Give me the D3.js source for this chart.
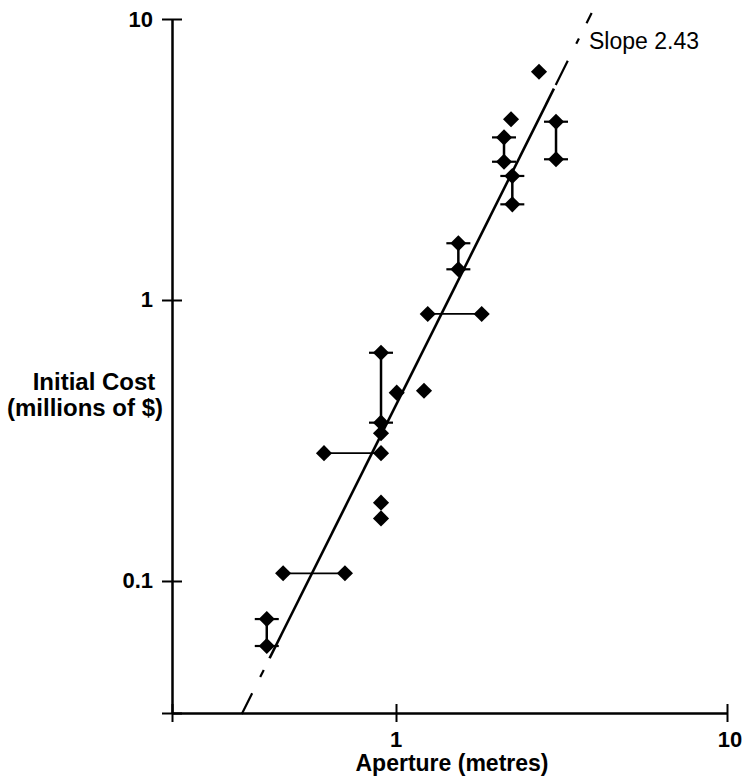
<!DOCTYPE html>
<html>
<head>
<meta charset="utf-8">
<script src="https://cdn.jsdelivr.net/npm/d3@7"></script>
<style>
  body { margin: 0; background: #fff; }
  svg { display: block; }
  text { font-family: "Liberation Sans", Arial, sans-serif; fill: #000; }
  .lbl { font-size: 22px; font-weight: bold; }
</style>
</head>
<body>
<svg id="chart" width="745" height="783"></svg>
<script>
// aperture (m) and initial cost (millions of $)
const points = [
  [0.407, 0.0732], [0.407, 0.0587],
  [0.456, 0.1065], [0.701, 0.1065],
  [0.606, 0.285], [0.901, 0.285],
  [0.901, 0.649], [0.901, 0.366], [0.901, 0.3355],
  [0.901, 0.19], [0.901, 0.167],
  [1.005, 0.468], [1.215, 0.4755],
  [1.247, 0.892], [1.815, 0.892],
  [1.543, 1.592], [1.543, 1.286],
  [2.12, 3.79], [2.12, 3.105],
  [2.226, 4.40],
  [2.246, 2.763], [2.246, 2.19],
  [2.704, 6.49],
  [3.044, 4.31], [3.044, 3.168]
];

// vertical ranges: [aperture, low cost, high cost]
const costRanges = [
  [0.407, 0.0587, 0.0732],
  [0.901, 0.366, 0.649],
  [1.543, 1.286, 1.592],
  [2.12, 3.105, 3.79],
  [2.246, 2.19, 2.763],
  [3.044, 3.168, 4.31]
];

// horizontal ranges: [cost, low aperture, high aperture]
const apertureRanges = [
  [0.1065, 0.456, 0.701],
  [0.285, 0.606, 0.901],
  [0.892, 1.247, 1.815]
];

// fitted power law as drawn: cost = fitAt1 * aperture ^ fitSlope
const fitSlope = 2.36;
const fitAt1 = 0.423;
const fitSolid = [0.415, 3.0];
const fitDashed = [0.342, 3.9];
const slopeLabel = "Slope 2.43";

const xTicks = [1, 10];
const yTicks = [0.1, 1, 10];
const xTickLabels = ["1", "10"];
const yTickLabels = ["0.1", "1", "10"];
const xDomain = [0.2105, 10];
const yDomain = [0.0339, 10];

const svg = d3.select("#chart");

const x = d3.scaleLog().domain(xDomain).range([172, 727]);
const y = d3.scaleLog().domain(yDomain).range([713, 19]);

const fit = a => fitAt1 * Math.pow(a, fitSlope);

// axes (ticks cross the line on both sides), labels drawn separately
const xAxis = svg.append("g").attr("transform", "translate(0,713)");
xAxis.call(d3.axisBottom(x).tickValues([xDomain[0], ...xTicks])
    .tickSize(9).tickSizeOuter(0).tickFormat(""));
xAxis.append("g").call(d3.axisTop(x).tickValues([xDomain[0], ...xTicks])
    .tickSize(9).tickSizeOuter(0).tickFormat(""));

const yAxis = svg.append("g").attr("transform", "translate(172,0)");
yAxis.call(d3.axisLeft(y).tickValues([yDomain[0], ...yTicks])
    .tickSize(10).tickSizeOuter(0).tickFormat(""));
yAxis.append("g").call(d3.axisRight(y).tickValues([yDomain[0], ...yTicks])
    .tickSize(10).tickSizeOuter(0).tickFormat(""));

svg.selectAll(".domain").attr("stroke", "#000").attr("stroke-width", 2);
svg.selectAll(".tick line").attr("stroke", "#000").attr("stroke-width", 2);

svg.append("g").selectAll("text")
    .data(xTicks)
    .join("text")
    .attr("class", "lbl")
    .attr("x", d => x(d) + (d === 10 ? 3 : 0))
    .attr("y", 747)
    .attr("text-anchor", "middle")
    .text((d, i) => xTickLabels[i]);

svg.append("g").selectAll("text")
    .data(yTicks)
    .join("text")
    .attr("class", "lbl")
    .attr("x", 153)
    .attr("y", d => y(d) + 7.5)
    .attr("text-anchor", "end")
    .text((d, i) => yTickLabels[i]);

// axis titles
svg.append("text")
    .attr("x", 452).attr("y", 771)
    .attr("text-anchor", "middle")
    .style("font-size", "23px").style("font-weight", "bold")
    .text("Aperture (metres)");

svg.append("text")
    .attr("x", 94).attr("y", 390)
    .attr("text-anchor", "middle")
    .style("font-size", "24px").style("font-weight", "bold")
    .text("Initial Cost");
svg.append("text")
    .attr("x", 85).attr("y", 416)
    .attr("text-anchor", "middle")
    .style("font-size", "24px").style("font-weight", "bold")
    .text("(millions of $)");

// fit line
const fitLine = d3.line().x(d => x(d)).y(d => y(fit(d)));

svg.append("path")
    .attr("d", fitLine(fitSolid))
    .attr("fill", "none").attr("stroke", "#000").attr("stroke-width", 2.6);

svg.append("path")
    .attr("d", fitLine([fitSolid[0], fitDashed[0]]))
    .attr("fill", "none").attr("stroke", "#000").attr("stroke-width", 2.2)
    .attr("stroke-dasharray", "0,13,8,18,24,40");

svg.append("path")
    .attr("d", fitLine([fitSolid[1], fitDashed[1]]))
    .attr("fill", "none").attr("stroke", "#000").attr("stroke-width", 2.2)
    .attr("stroke-dasharray", "0,4,27,19,6,17,14,40");

svg.append("text")
    .attr("x", 589).attr("y", 49)
    .style("font-size", "23px")
    .text(slopeLabel);

// ranges
svg.append("g").selectAll("line")
    .data(apertureRanges)
    .join("line")
    .attr("x1", d => x(d[1])).attr("x2", d => x(d[2]))
    .attr("y1", d => y(d[0])).attr("y2", d => y(d[0]))
    .attr("stroke", "#000").attr("stroke-width", 1.8);

const bars = svg.append("g").selectAll("g")
    .data(costRanges)
    .join("g");
bars.append("line")
    .attr("x1", d => x(d[0])).attr("x2", d => x(d[0]))
    .attr("y1", d => y(d[1])).attr("y2", d => y(d[2]))
    .attr("stroke", "#000").attr("stroke-width", 2.5);
bars.selectAll(".cap")
    .data(d => [[d[0], d[1]], [d[0], d[2]]])
    .join("line")
    .attr("class", "cap")
    .attr("x1", d => x(d[0]) - 12).attr("x2", d => x(d[0]) + 12)
    .attr("y1", d => y(d[1])).attr("y2", d => y(d[1]))
    .attr("stroke", "#000").attr("stroke-width", 2.2);

// diamonds
const diamond = d3.symbol(d3.symbolSquare, 130);
svg.append("g").selectAll("path")
    .data(points)
    .join("path")
    .attr("d", diamond)
    .attr("transform", d => `translate(${x(d[0])},${y(d[1])}) rotate(45)`)
    .attr("fill", "#000");
</script>
</body>
</html>
